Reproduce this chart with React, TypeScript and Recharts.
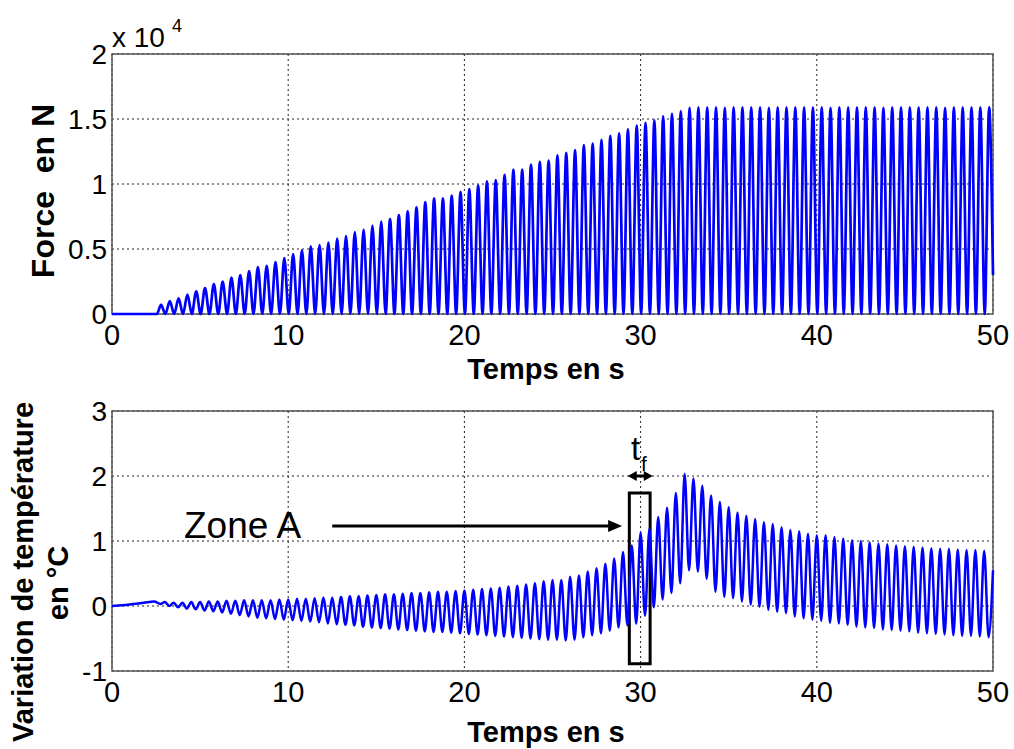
import React from "react";
import {
  LineChart,
  Line,
  XAxis,
  YAxis,
  CartesianGrid,
  ReferenceArea,
  ReferenceLine,
} from "recharts";

const FONT = "'Liberation Sans', Arial, Helvetica, sans-serif";
const BLUE = "#0000ff";

// axes
const timeTicks = [0, 10, 20, 30, 40, 50];
const forceTicks = [0, 5000, 10000, 15000, 20000];
const tempTicks = [-1, 0, 1, 2, 3];

// force signal: one peak per cycle (N), troughs back to 0
const FORCE_FIRST_PEAK = 2.78;
const PERIOD = 0.5;
const FORCE_TROUGH = 0;
const forceLead: [number, number][] = [
  [0, 0],
  [2.55, 0],
];
const forcePeaks = [
  700, 1000, 1200, 1500, 1750, 2000, 2300, 2500, 2800, 3000,
  3300, 3600, 3700, 4000, 4300, 4600, 4900, 5200, 5300, 5500,
  5800, 6000, 6300, 6500, 6800, 7100, 7300, 7600, 7900, 8200,
  8600, 8900, 8900, 9100, 9400, 9600, 9900, 10200, 10300, 10700,
  11100, 11100, 11500, 11700, 11800, 12200, 12400, 12600, 13000, 13100,
  13400, 13700, 13900, 14200, 14500, 14700, 14900, 15200, 15400, 15600,
  15850, 15900, 15900, 15900, 15850, 15900, 15900, 15900, 15900, 15850,
  15900, 15900, 15900, 15900, 15900, 15900, 15850, 15900, 15900, 15900,
  15900, 15900, 15850, 15900, 15900, 15900, 15900, 15900, 15900, 15850,
  15900, 15900, 15900, 15900, 15900,
];
const forceTail: [number, number] = [50, 3000];

// temperature signal: peaks at 3.0 + 0.5k, troughs a quarter period later (°C)
const TEMP_FIRST_PEAK = 3.0;
const tempLead: [number, number][] = [
  [0, 0],
  [0.6, 0.01],
  [1.2, 0.03],
  [1.8, 0.05],
  [2.4, 0.07],
  [2.75, 0.03],
];
const tempPeaks = [
  0.06, 0.05, 0.05, 0.06, 0.06, 0.07, 0.07, 0.08, 0.08, 0.09,
  0.09, 0.09, 0.09, 0.1, 0.1, 0.11, 0.11, 0.12, 0.13, 0.13,
  0.14, 0.15, 0.15, 0.16, 0.17, 0.18, 0.18, 0.19, 0.2, 0.2,
  0.21, 0.22, 0.22, 0.23, 0.24, 0.25, 0.26, 0.27, 0.28, 0.3,
  0.31, 0.33, 0.35, 0.38, 0.4, 0.4, 0.45, 0.47, 0.53, 0.58,
  0.65, 0.73, 0.83, 0.93, 1.13, 1.19, 1.37, 1.51, 1.74, 2.03,
  1.96, 1.85, 1.7, 1.6, 1.52, 1.44, 1.39, 1.34, 1.29, 1.26,
  1.21, 1.17, 1.15, 1.11, 1.09, 1.09, 1.06, 1.04, 1.01, 1.0,
  0.98, 0.96, 0.95, 0.93, 0.92, 0.91, 0.9, 0.89, 0.88, 0.88,
  0.87, 0.86, 0.86, 0.85,
];
const tempTroughs = [
  0.0, -0.02, -0.04, -0.05, -0.07, -0.08, -0.1, -0.12, -0.14, -0.16,
  -0.18, -0.19, -0.2, -0.21, -0.22, -0.23, -0.24, -0.25, -0.27, -0.28,
  -0.29, -0.3, -0.32, -0.33, -0.34, -0.35, -0.36, -0.37, -0.38, -0.39,
  -0.4, -0.4, -0.41, -0.42, -0.43, -0.44, -0.45, -0.46, -0.47, -0.48,
  -0.49, -0.5, -0.51, -0.52, -0.52, -0.53, -0.52, -0.48, -0.45, -0.42,
  -0.38, -0.33, -0.3, -0.27, -0.15, -0.02, 0.1, 0.2, 0.35, 0.55,
  0.53, 0.42, 0.22, 0.14, 0.12, 0.07, 0.02, -0.01, -0.06, -0.09,
  -0.11, -0.16, -0.19, -0.21, -0.23, -0.26, -0.27, -0.29, -0.32, -0.33,
  -0.34, -0.36, -0.37, -0.38, -0.39, -0.41, -0.42, -0.43, -0.44, -0.45,
  -0.46, -0.46, -0.47, -0.48,
];
const tempTail: [number, number] = [50, 0.55];

// zone A annotation (time in s, temperature in °C)
const zoneBox = { t1: 29.36, t2: 30.54, y1: -0.89, y2: 1.74 };
const zoneArrow = { t1: 12.5, t2: 28.95, y: 1.23 };
const tfArrow = { t1: 29.27, t2: 30.69, y: 2.0 };

const forceData = [
  ...forceLead.map(([t, f]) => ({ t, f })),
  ...forcePeaks.flatMap((p, k) => {
    const t = FORCE_FIRST_PEAK + k * PERIOD;
    const pts = [{ t, f: p }];
    if (k < forcePeaks.length - 1) pts.push({ t: t + PERIOD / 2, f: FORCE_TROUGH });
    return pts;
  }),
  { t: forceTail[0], f: forceTail[1] },
];

const tempData = [
  ...tempLead.map(([t, v]) => ({ t, v })),
  ...tempPeaks.flatMap((p, k) => {
    const t = TEMP_FIRST_PEAK + k * PERIOD;
    return [
      { t, v: p },
      { t: t + PERIOD / 2, v: tempTroughs[k] },
    ];
  }),
  { t: tempTail[0], v: tempTail[1] },
];

function XTick({ x, y, payload }: any) {
  return (
    <text x={x} y={y + 31} textAnchor="middle" fontSize={29} fontFamily={FONT} fill="#000">
      {payload.value}
    </text>
  );
}

function makeYTick(fmt: (v: number) => string) {
  return ({ x, y, payload }: any) => (
    <text x={x - 5} y={y + 10} textAnchor="end" fontSize={28} fontFamily={FONT} fill="#000">
      {fmt(payload.value)}
    </text>
  );
}

function Arrow({ x1, y1, x2, y2, head = 14, half = 6, both = false }: any) {
  const dir = x2 > x1 ? 1 : -1;
  return (
    <g>
      <line
        x1={both ? x1 + dir * head * 0.6 : x1}
        y1={y1}
        x2={x2 - dir * head * 0.6}
        y2={y2}
        stroke="#000"
        strokeWidth={3}
      />
      <polygon
        points={`${x2},${y2} ${x2 - dir * head},${y2 - half} ${x2 - dir * head},${y2 + half}`}
        fill="#000"
      />
      {both && (
        <polygon
          points={`${x1},${y1} ${x1 + dir * head},${y1 - half} ${x1 + dir * head},${y1 + half}`}
          fill="#000"
        />
      )}
    </g>
  );
}

const gridProps = { strokeDasharray: "2 3", stroke: "#222", strokeWidth: 1 };

export default function App() {
  return (
    <div
      style={{
        position: "absolute",
        left: 0,
        top: 0,
        width: 1014,
        height: 749,
        background: "#fff",
        overflow: "hidden",
      }}
    >
      <div style={{ position: "absolute", left: 0, top: 0 }}>
        <LineChart
          width={1014}
          height={400}
          data={forceData}
          margin={{ top: 54, right: 21, bottom: 46, left: 12 }}
        >
          <CartesianGrid {...gridProps} />
          <XAxis
            dataKey="t"
            type="number"
            domain={[0, 50]}
            ticks={timeTicks}
            height={40}
            tickSize={0}
            tickMargin={0}
            axisLine={false}
            tick={<XTick />}
            interval={0}
          />
          <YAxis
            type="number"
            domain={[0, 20000]}
            ticks={forceTicks}
            width={100}
            tickSize={0}
            tickMargin={0}
            axisLine={false}
            tick={makeYTick((v) => String(v / 10000))}
            interval={0}
          />
          <Line
            type="monotone"
            dataKey="f"
            stroke={BLUE}
            strokeWidth={2.7}
            dot={false}
            isAnimationActive={false}
          />
          <ReferenceArea
            x1={0}
            x2={50}
            y1={0}
            y2={20000}
            fill="none"
            stroke="#555"
            strokeWidth={1.5}
            ifOverflow="visible"
          />
        </LineChart>
      </div>

      <div style={{ position: "absolute", left: 0, top: 380 }}>
        <LineChart
          width={1014}
          height={369}
          data={tempData}
          margin={{ top: 31, right: 21, bottom: 38, left: 12 }}
        >
          <CartesianGrid {...gridProps} />
          <XAxis
            dataKey="t"
            type="number"
            domain={[0, 50]}
            ticks={timeTicks}
            height={40}
            tickSize={0}
            tickMargin={0}
            axisLine={false}
            tick={<XTick />}
            interval={0}
          />
          <YAxis
            type="number"
            domain={[-1, 3]}
            ticks={tempTicks}
            width={100}
            tickSize={0}
            tickMargin={0}
            axisLine={false}
            tick={makeYTick((v) => String(v))}
            interval={0}
          />
          <Line
            type="monotone"
            dataKey="v"
            stroke={BLUE}
            strokeWidth={2.5}
            dot={false}
            isAnimationActive={false}
          />
          <ReferenceArea
            x1={0}
            x2={50}
            y1={-1}
            y2={3}
            fill="none"
            stroke="#555"
            strokeWidth={1.5}
            ifOverflow="visible"
          />
          <ReferenceArea
            x1={zoneBox.t1}
            x2={zoneBox.t2}
            y1={zoneBox.y1}
            y2={zoneBox.y2}
            fill="none"
            stroke="#000"
            strokeWidth={3}
            ifOverflow="visible"
          />
          <ReferenceLine
            segment={[
              { x: zoneArrow.t1, y: zoneArrow.y },
              { x: zoneArrow.t2, y: zoneArrow.y },
            ]}
            ifOverflow="visible"
            shape={(p: any) => <Arrow x1={p.x1} y1={p.y1} x2={p.x2} y2={p.y2} />}
          />
          <ReferenceLine
            segment={[
              { x: tfArrow.t1, y: tfArrow.y },
              { x: tfArrow.t2, y: tfArrow.y },
            ]}
            ifOverflow="visible"
            shape={(p: any) => (
              <Arrow x1={p.x1} y1={p.y1} x2={p.x2} y2={p.y2} head={9} half={5} both />
            )}
          />
        </LineChart>
      </div>

      <svg
        width={1014}
        height={749}
        style={{ position: "absolute", left: 0, top: 0, pointerEvents: "none" }}
        fontFamily={FONT}
      >
        <text x={112} y={47} fontSize={28} fill="#000">
          x 10
        </text>
        <text x={172} y={32} fontSize={18} fill="#000">
          4
        </text>
        <text
          transform="translate(54,191) rotate(-90)"
          textAnchor="middle"
          fontSize={32}
          fontWeight="bold"
          fill="#000"
          xmlSpace="preserve"
        >
          Force  en N
        </text>
        <text x={546} y={379} textAnchor="middle" fontSize={29} fontWeight="bold" fill="#000">
          Temps en s
        </text>
        <text
          transform="translate(33,572) rotate(-90)"
          textAnchor="middle"
          fontSize={29}
          fontWeight="bold"
          fill="#000"
        >
          Variation de température
        </text>
        <text
          transform="translate(68,583) rotate(-90)"
          textAnchor="middle"
          fontSize={29}
          fontWeight="bold"
          fill="#000"
        >
          en °C
        </text>
        <text x={546} y={742} textAnchor="middle" fontSize={29} fontWeight="bold" fill="#000">
          Temps en s
        </text>
        <text x={184} y={538} fontSize={37} fill="#000">
          Zone A
        </text>
        <text x={631} y={460} fontSize={33} fill="#000">
          t
        </text>
        <text x={641} y={471} fontSize={21} fill="#000">
          f
        </text>
      </svg>
    </div>
  );
}
